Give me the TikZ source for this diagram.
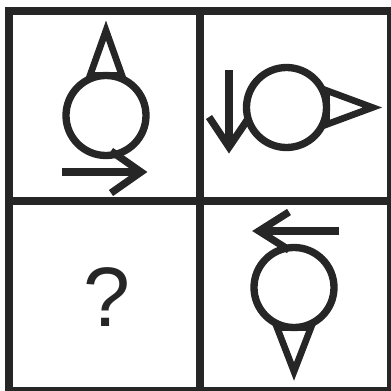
\documentclass[tikz,border=0pt]{standalone}
\usepackage{fontspec}
\setmainfont{Liberation Sans}
\usepackage{tikz}
\usetikzlibrary{positioning, calc}

\tikzset{
    frame/.style={line width=0.24cm, draw=black!85},
    ring/.style={circle, draw=black!85, line width=0.22cm, minimum size=2.4cm, inner sep=0pt, outer sep=0pt},
    stroke/.style={line width=0.22cm, draw=black!85, line join=miter, miter limit=20},
    tri/.style={line width=0.2cm, draw=black!85, line join=miter, miter limit=20}
}

\begin{document}
\begin{tikzpicture}[x=0.03cm, y=-0.03cm]
    \useasboundingbox (0,0) rectangle (391,391);

    % Grid of four cells
    \draw[frame] (9,11) rectangle (391,391);
    \draw[frame] (200,11) -- (200,391);
    \draw[frame] (9,201) -- (391,201);

    % Circles
    \node[ring] (c1) at (106,115.5) {};
    \node[ring] (c2) at (286.5,107.5) {};
    \node[ring] (c4) at (294,287.5) {};

    % Triangles on the circles
    \draw[tri] (c1.north) ++(-16,0) -- ++(16,-45) -- ++(16,45) -- cycle;
    \draw[tri] (c2.east) ++(0,-17) -- ++(46,17) -- ++(-46,17) -- cycle;
    \draw[tri] (c4.south) ++(-17,0) -- ++(17,44) -- ++(17,-44) -- cycle;

    % Arrows
    \coordinate (a1) at (62,172);
    \coordinate (t1) at (141,172);
    \draw[stroke] (a1) -- (t1);
    \draw[stroke] (111,151) -- (t1) -- (111,193);

    \coordinate (a2) at (229,70);
    \coordinate (t2) at (229,147);
    \draw[stroke] (a2) -- (t2);
    \draw[stroke] (209,117) -- (t2) -- (248,119);

    \coordinate (a4) at (339,231);
    \coordinate (t4) at (259,231);
    \draw[stroke] (a4) -- (t4);
    \draw[stroke] (289,212) -- (t4) -- (289,250);

    % Missing cell
    \node[text=black!85, font=\fontsize{72}{72}\selectfont] (q) at (107,297) {?};
\end{tikzpicture}
\end{document}
